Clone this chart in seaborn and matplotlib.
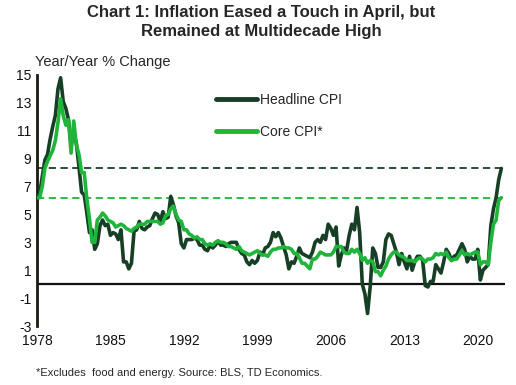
import numpy as np
import pandas as pd
import matplotlib
matplotlib.use("Agg")
import matplotlib.pyplot as plt
import seaborn as sns

# ---- data (quarterly readings: Jan, Apr, Jul, Oct of each year) ----
years = list(range(1978, 2023))
headline_cpi = [
    6.2, 6.5, 7.7, 8.9,
    9.3, 10.4, 11.3, 12.1,
    14.0, 14.8, 13.1, 12.6,
    11.8, 10.0, 10.8, 10.1,
    8.4, 6.6, 6.4, 5.1,
    3.7, 3.9, 2.5, 2.9,
    4.2, 4.6, 4.2, 4.3,
    3.5, 3.7, 3.6, 3.2,
    3.9, 1.6, 1.6, 1.1,
    1.5, 3.8, 3.9, 4.5,
    4.0, 3.9, 4.1, 4.2,
    4.7, 5.1, 5.0, 4.5,
    5.2, 4.7, 4.8, 6.3,
    5.7, 4.9, 4.4, 2.9,
    2.6, 3.2, 3.2, 3.2,
    3.3, 3.2, 2.8, 2.8,
    2.5, 2.4, 2.8, 2.6,
    2.8, 3.1, 2.8, 2.8,
    2.7, 2.9, 3.0, 3.0,
    3.0, 2.5, 2.2, 2.1,
    1.6, 1.4, 1.7, 1.5,
    1.7, 2.3, 2.1, 2.6,
    2.7, 3.0, 3.7, 3.4,
    3.7, 3.3, 2.7, 2.1,
    1.1, 1.6, 1.5, 2.0,
    2.6, 2.2, 2.1, 2.0,
    1.9, 2.3, 3.0, 3.2,
    3.0, 3.5, 3.2, 4.3,
    4.0, 3.5, 4.1, 1.3,
    2.1, 2.6, 2.4, 3.5,
    4.3, 3.9, 5.5, 3.7,
    0.0, -0.7, -2.1, -0.2,
    2.6, 2.2, 1.2, 1.2,
    1.6, 3.2, 3.6, 3.5,
    2.9, 2.3, 1.4, 2.2,
    1.6, 1.1, 2.0, 1.0,
    1.6, 2.0, 2.0, 1.7,
    -0.1, -0.2, 0.2, 0.2,
    1.4, 1.1, 0.8, 1.6,
    2.5, 2.2, 1.7, 2.0,
    2.1, 2.5, 2.9, 2.5,
    1.6, 2.0, 1.8, 1.8,
    2.5, 0.3, 1.0, 1.2,
    1.4, 4.2, 5.4, 6.2,
    7.5, 8.3,
]
core_cpi = [
    6.2, 6.2, 7.0, 8.3,
    8.8, 9.2, 9.6, 10.3,
    11.6, 13.3, 12.1, 11.4,
    11.8, 9.4, 11.7, 10.0,
    9.3, 8.0, 8.0, 6.1,
    4.7, 3.0, 3.0, 4.6,
    4.8, 5.1, 4.9, 4.6,
    4.5, 4.4, 4.1, 4.2,
    4.3, 4.2, 4.0, 3.9,
    3.8, 4.0, 4.1, 4.3,
    4.3, 4.3, 4.5, 4.5,
    4.5, 4.5, 4.5, 4.3,
    4.4, 4.9, 5.0, 5.4,
    5.6, 5.0, 4.6, 4.5,
    3.9, 3.9, 3.6, 3.5,
    3.3, 3.4, 3.2, 3.2,
    2.9, 2.8, 2.9, 2.8,
    3.0, 3.1, 3.0, 3.0,
    2.9, 2.7, 2.7, 2.6,
    2.5, 2.7, 2.4, 2.3,
    2.2, 2.1, 2.2, 2.3,
    2.4, 2.2, 2.1, 2.1,
    2.0, 2.3, 2.5, 2.5,
    2.6, 2.6, 2.7, 2.6,
    2.6, 2.5, 2.2, 2.2,
    1.9, 1.5, 1.5, 1.3,
    1.1, 1.8, 1.8, 2.0,
    2.3, 2.2, 2.1, 2.1,
    2.1, 2.3, 2.7, 2.7,
    2.7, 2.3, 2.2, 2.2,
    2.5, 2.3, 2.5, 2.2,
    1.7, 1.9, 1.5, 1.7,
    1.6, 0.9, 0.9, 0.6,
    1.0, 1.3, 1.8, 2.1,
    2.3, 2.3, 2.1, 2.0,
    1.9, 1.7, 1.7, 1.7,
    1.6, 1.8, 1.9, 1.8,
    1.6, 1.8, 1.8, 1.9,
    2.2, 2.1, 2.2, 2.1,
    2.3, 1.9, 1.7, 1.8,
    1.8, 2.1, 2.4, 2.1,
    2.2, 2.1, 2.2, 2.3,
    2.3, 1.4, 1.6, 1.6,
    1.4, 3.0, 4.3, 4.6,
    6.0, 6.2,
]
series_names = ["Headline CPI", "Core CPI*"]
x_ticks = [1978, 1985, 1992, 1999, 2006, 2013, 2020]
y_ticks = [-3, -1, 1, 3, 5, 7, 9, 11, 13, 15]

dates = [y + q * 0.25 for y in years for q in range(4)][:len(headline_cpi)]
df = pd.DataFrame({
    "date": dates * 2,
    "value": headline_cpi + core_cpi,
    "series": [series_names[0]] * len(dates) + [series_names[1]] * len(dates),
})

dark = "#173f25"
green = "#1fb43a"

sns.set_style("white")
plt.rcParams["font.family"] = ["Liberation Sans", "DejaVu Sans"]
plt.rcParams["axes.unicode_minus"] = False

fig = plt.figure(figsize=(5.16, 3.85), dpi=100)
ax = fig.add_axes([0.0717, 0.1532, 0.907, 0.652])

ax.axhline(headline_cpi[-1], color=dark, lw=1.3, ls=(0, (4, 2.5)), zorder=1)
ax.axhline(core_cpi[-1], color=green, lw=1.3, ls=(0, (4, 2.5)), zorder=1)
ax.axhline(0, color="#111111", lw=1.6, zorder=1)

sns.lineplot(data=df, x="date", y="value", hue="series",
             palette={series_names[0]: dark, series_names[1]: green},
             linewidth=2.6, ax=ax, legend=True, zorder=3)

ax.set_xlim(1978, 2022.6)
ax.set_ylim(-3, 15)
ax.set_xticks(x_ticks)
ax.set_yticks(y_ticks)
ax.set_xticklabels([str(t) for t in x_ticks])
ax.set_yticklabels([str(t) for t in y_ticks])
ax.tick_params(axis="both", length=0, labelsize=10, colors="#111111")
ax.tick_params(axis="x", pad=6)
ax.tick_params(axis="y", pad=4)
ax.set_xlabel("")
ax.set_ylabel("")
for s in ["top", "right", "bottom"]:
    ax.spines[s].set_visible(False)
ax.spines["left"].set_color("#1a1a10")
ax.spines["left"].set_linewidth(2.0)

leg = ax.legend(loc="upper left", bbox_to_anchor=(0.355, 0.978), frameon=False,
                fontsize=10, handlelength=3.0, handletextpad=0.2,
                labelspacing=1.3)
for line in leg.get_lines():
    line.set_linewidth(3.5)

fig.text(0.506, 0.968, "Chart 1: Inflation Eased a Touch in April, but",
         ha="center", va="center", fontsize=12, fontweight="bold")
fig.text(0.506, 0.918, "Remained at Multidecade High",
         ha="center", va="center", fontsize=12, fontweight="bold")
fig.text(0.068, 0.84, "Year/Year % Change", ha="left", va="center", fontsize=10.5)
fig.text(0.07, 0.032, "*Excludes  food and energy. Source: BLS, TD Economics.",
         ha="left", va="center", fontsize=8)

fig.savefig("out.png", dpi=100)
